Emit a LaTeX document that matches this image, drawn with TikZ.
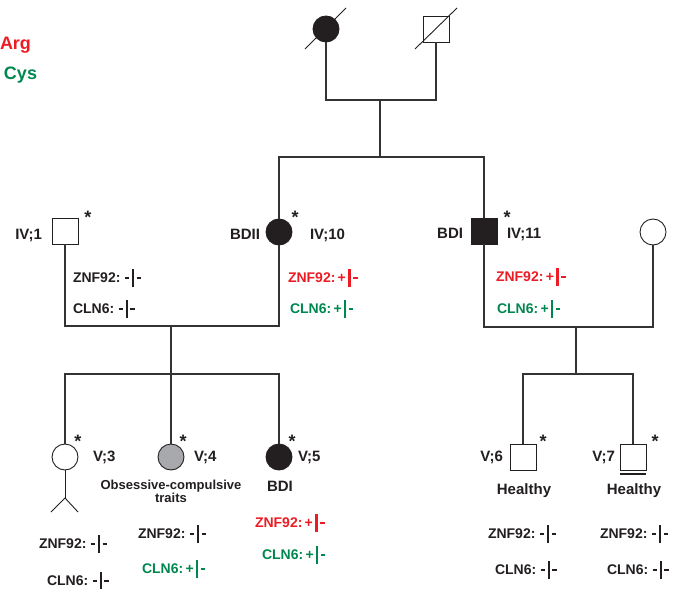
\documentclass[tikz,border=0pt]{standalone}
\usepackage{fontspec}
\setmainfont{Liberation Sans}
\definecolor{ink}{HTML}{231F20}
\definecolor{lnk}{HTML}{333333}
\definecolor{mutred}{HTML}{ED1C24}
\definecolor{mutgreen}{HTML}{00874F}
\definecolor{ocgray}{HTML}{A7A9AC}
\newcommand\gdash{\rule[3.4pt]{4.4pt}{2pt}}
\newcommand\gm{\kern4.5pt\gdash}
\newcommand\gp{\kern2.3pt+}
\newcommand\gbar{\kern2.4pt\rule[-5pt]{2.3pt}{18pt}\kern2.6pt\gdash}
\begin{document}
\begin{tikzpicture}[x=1pt,y=-1pt,
  every node/.style={inner sep=0pt,outer sep=0pt,text=ink},
  male/.style={draw=ink,line width=0.9pt,rectangle,minimum width=26pt,minimum height=26pt},
  female/.style={draw=ink,line width=0.9pt,circle,minimum size=26pt},
  aff/.style={fill=ink},
  conn/.style={draw=lnk,line width=1.2pt},
  lab/.style={font=\fontsize{15}{17}\selectfont\bfseries},
  gen/.style={font=\fontsize{14}{16}\selectfont\bfseries,anchor=base west},
  star/.style={font=\fontsize{18}{18}\selectfont\bfseries,anchor=base},
  legend/.style={font=\fontsize{18}{20}\selectfont\bfseries,anchor=base west}]
\useasboundingbox[fill=white] (0,0) rectangle (676,588);

% legend
\node[legend,text=mutred] (lega) at (0,50) {Arg};
\node[legend,text=mutgreen] (legc) at (4,80) {Cys};

% generation III
\node[female,aff] (mom) at (326,29) {};
\node[male] (dad) at (436,29) {};
\draw[ink,line width=0.9pt] ([shift={(-21,20)}]mom.center) -- ([shift={(20,-21)}]mom.center);
\draw[ink,line width=0.9pt] ([shift={(-21,20)}]dad.center) -- ([shift={(21,-21)}]dad.center);
\coordinate (topbar) at (380,100);
\coordinate (sib1) at (380,157);
\draw[conn] (mom.south) |- (topbar) -| (dad.south);
\draw[conn] (topbar) -- (sib1);

% generation IV
\node[male] (iv1) at (65,231) {};
\node[female,aff] (iv10) at (279,232) {};
\node[male,aff] (iv11) at (484,231) {};
\node[female] (sp) at (653,232) {};
\draw[conn] (iv10.north) |- (sib1) -| (iv11.north);

\coordinate (mar1) at (171,326);
\coordinate (ch1) at (171,374);
\draw[conn] (iv1.south) |- (mar1) -| (iv10.south);
\draw[conn] (mar1) -- (ch1);

\coordinate (mar2) at (576,327);
\coordinate (ch2) at (576,374);
\draw[conn] (iv11.south) |- (mar2) -| (sp.south);
\draw[conn] (mar2) -- (ch2);

% generation V
\node[female] (v3) at (65,457) {};
\node[female,fill=ocgray] (v4) at (171,457) {};
\node[female,aff] (v5) at (279,457) {};
\node[male] (v6) at (523,457) {};
\node[male] (v7) at (633,457) {};
\draw[conn] (v3.north) |- (ch1) -| (v5.north);
\draw[conn] (ch1) -- (v4.north);
\draw[conn] (v6.north) |- (ch2) -| (v7.north);

% stick figure under V;3
\coordinate (hip) at (65,498);
\coordinate (lleg) at (51,512);
\coordinate (rleg) at (78,512);
\draw[ink,line width=0.9pt] (v3.south) -- (hip);
\draw[ink,line width=0.9pt] (lleg) -- (hip) -- (rleg);
% underline V;7
\draw[ink,line width=1.6pt] ([yshift=-4pt]v7.south west) -- ([yshift=-4pt]v7.south east);

% stars
\node[star] (s1) at (88,223.5) {*};
\node[star] (s10) at (295,223.5) {*};
\node[star] (s11) at (507,223.5) {*};
\node[star] (s3) at (78,447.5) {*};
\node[star] (s4) at (183,447.5) {*};
\node[star] (s5) at (292,447.5) {*};
\node[star] (s6) at (543,447.5) {*};
\node[star] (s7) at (655,447.5) {*};

% labels
\node[lab,anchor=base east] (l1) at (42,239) {IV;1};
\node[lab,anchor=base east] (l10a) at (260,239) {BDII};
\node[lab,anchor=base west] (l10) at (310,239) {IV;10};
\node[lab,anchor=base east] (l11a) at (463,238) {BDI};
\node[lab,anchor=base west] (l11) at (507,238) {IV;11};
\node[lab,anchor=base west] (l3) at (93,461) {V;3};
\node[lab,anchor=base west] (l4) at (194,461) {V;4};
\node[lab,anchor=base west] (l5) at (298,461) {V;5};
\node[lab,anchor=base east] (l6) at (503,461) {V;6};
\node[lab,anchor=base east] (l7) at (615,461) {V;7};
\node[lab,anchor=base] (d5) at (280,491) {BDI};
\node[lab,anchor=base] (d6) at (524,494) {Healthy};
\node[lab,anchor=base] (d7) at (634,494) {Healthy};
\node[font=\fontsize{13}{13.5}\selectfont\bfseries,align=center,anchor=north] (d4) at (171,480) {Obsessive-compulsive\\traits};

% genotypes
\node[gen] (g1a) at (73,282) {ZNF92:\gm\gbar};
\node[gen] (g1b) at (73,313) {CLN6:\gm\gbar};
\node[gen,text=mutred] (g10a) at (288,282) {ZNF92:\gp\gbar};
\node[gen,text=mutgreen] (g10b) at (290,313) {CLN6:\gp\gbar};
\node[gen,text=mutred] (g11a) at (496,281) {ZNF92:\gp\gbar};
\node[gen,text=mutgreen] (g11b) at (497,313) {CLN6:\gp\gbar};
\node[gen] (g3a) at (39,548) {ZNF92:\gm\gbar};
\node[gen] (g3b) at (47,585) {CLN6:\gm\gbar};
\node[gen] (g4a) at (138,538) {ZNF92:\gm\gbar};
\node[gen,text=mutgreen] (g4b) at (142,573) {CLN6:\gp\gbar};
\node[gen,text=mutred] (g5a) at (255,527) {ZNF92:\gp\gbar};
\node[gen,text=mutgreen] (g5b) at (262,559) {CLN6:\gp\gbar};
\node[gen] (g6a) at (488,538) {ZNF92:\gm\gbar};
\node[gen] (g6b) at (495,574) {CLN6:\gm\gbar};
\node[gen] (g7a) at (600,538) {ZNF92:\gm\gbar};
\node[gen] (g7b) at (607,574) {CLN6:\gm\gbar};
\end{tikzpicture}
\end{document}
